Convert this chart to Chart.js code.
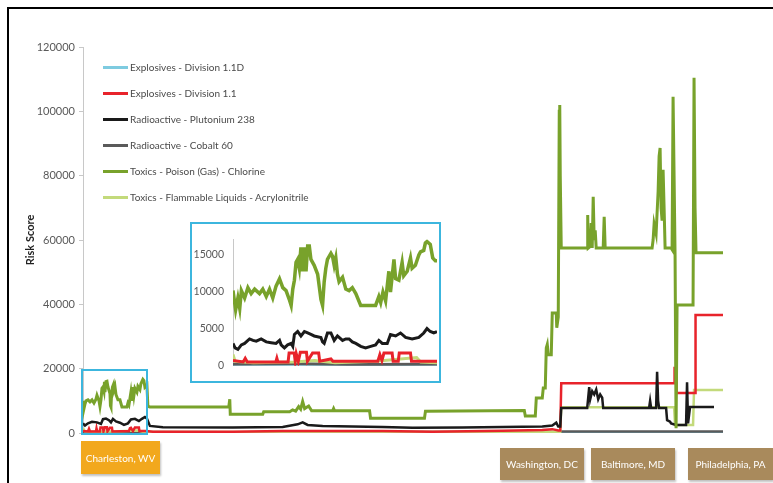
<!DOCTYPE html>
<html>
<head>
<meta charset="utf-8">
<script src="https://cdn.jsdelivr.net/npm/chart.js@4.4.1/dist/chart.umd.min.js"></script>
<style>
  body { margin: 0; background: #fff; font-family: Lato, "Open Sans", sans-serif; }
  #page { position: relative; width: 773px; height: 483px; overflow: hidden; }
  #frame { position: absolute; left: 7px; top: 7px; right: 0; bottom: 0;
           border-top: 2px solid #000; border-left: 2px solid #000; }
  #main { position: absolute; left: 0; top: 0; }
  #legend { position: absolute; left: 103px; top: 54px; }
  .row { height: 26px; display: flex; align-items: center; font-size: 10px; color: #4a4a4a; }
  .row span.sw { width: 25px; height: 3px; margin-right: 2px; }
  #zoomBox { position: absolute; left: 81px; top: 369px; width: 63px; height: 62px; border: 2px solid #3cb6de; }
  #insetBox { position: absolute; left: 190px; top: 222px; width: 247px; height: 157px;
              border: 2px solid #3cb6de; background: #fff; }
  #inset { position: absolute; left: 0; top: 0; }
  .place { position: absolute; color: #fff; font-size: 10px; display: flex; align-items: center;
           justify-content: center; box-shadow: 1px 2px 2px rgba(0,0,0,0.25); }
</style>
</head>
<body>
<div id="page">
  <div id="frame"></div>
  <canvas id="main" width="773" height="483"></canvas>
  <div id="legend"></div>
  <div id="zoomBox"></div>
  <div id="insetBox"><canvas id="inset" width="247" height="157"></canvas></div>
  <div class="place" style="left:81px;top:441px;width:79px;height:33px;background:#f2a81d;">Charleston, WV</div>
  <div class="place" style="left:500px;top:448px;width:84px;height:32px;background:#a98a5c;">Washington, DC</div>
  <div class="place" style="left:591px;top:448px;width:84px;height:32px;background:#a98a5c;">Baltimore, MD</div>
  <div class="place" style="left:688px;top:448px;width:85px;height:32px;background:#a98a5c;">Philadelphia, PA</div>
</div>
<script>
// route position along the corridor (0 = Charleston, 641 = Philadelphia), risk score
const seriesNames = [
  'Explosives - Division 1.1D',
  'Explosives - Division 1.1',
  'Radioactive - Plutonium 238',
  'Radioactive - Cobalt 60',
  'Toxics - Poison (Gas) - Chlorine',
  'Toxics - Flammable Liquids - Acrylonitrile'
];
const seriesColors = ['#7ecbe0', '#e8232b', '#1a1a1a', '#5a5a5a', '#78a22b', '#c3da7b'];

const yTicks = [0, 20000, 40000, 60000, 80000, 100000, 120000];
const insetTicks = [0, 5000, 10000, 15000];

const explosives11D = [[0, 100], [641, 100]];

const explosives11 = [
  [0, 600], [5, 500], [6, 1300], [7, 500], [13, 500], [13.5, 1400], [14, 500], [17, 500], [17.5, 1700],
  [20, 1700], [20.5, 500], [22, 1800], [24, 1800], [24.5, 500], [27, 1600], [29, 1600], [29.5, 500],
  [46, 600], [47, 1500], [48, 1600], [50, 600], [52, 1700], [56, 1700], [56.5, 600], [63, 600],
  [70, 400], [150, 400], [200, 600], [300, 600], [350, 400], [420, 700], [460, 900], [470, 1200],
  [476, 800], [478, 800], [479, 15500], [592, 15500], [592.5, 20200], [594, 20200], [594.5, 12400],
  [613, 12400], [613.5, 36700], [641, 36700]
];

const plutonium238 = [
  [0, 3000], [2, 2300], [5, 3000], [9, 3500], [14, 3300], [18, 2800], [20, 4300], [23, 4500], [26, 4000],
  [28, 3300], [30, 4400], [33, 3600], [37, 3200], [41, 2500], [45, 3000], [48, 4200], [52, 4400],
  [56, 3700], [59, 4400], [62, 5000], [64, 4500], [67, 2200], [80, 1800], [150, 1700], [200, 1900],
  [215, 2700], [220, 3300], [225, 2500], [240, 2200], [300, 1900], [330, 1600], [380, 1700], [420, 1900],
  [460, 2000], [470, 2300], [474, 3200], [476, 2000], [478, 2000], [479, 7800], [505, 7800], [506, 11000],
  [507, 14300], [508, 10500], [510, 13000], [512, 12000], [514, 13500], [516, 10500], [518, 12000],
  [520, 11000], [521, 7800], [567, 7800], [568, 10000], [569, 7800], [574, 7800], [575, 19000],
  [576, 10000], [577, 7800], [584, 7800], [585, 4000], [588, 3500], [589, 3000], [594, 2500], [604, 2500],
  [605, 15800], [606, 3000], [608, 8100], [632, 8100]
];

const cobalt60 = [[0, 300], [150, 200], [300, 300], [478, 300], [479, 500], [641, 500]];

const chlorine = [
  [0, 10000], [1, 7600], [2, 9000], [3, 10000], [5, 10300], [7, 9700], [9, 10300], [11, 9300], [13, 10500],
  [14, 11700], [16, 10000], [17, 8200], [18, 10300], [19, 13900], [20, 14300], [21, 13000], [21.5, 15900],
  [22, 12700], [23, 16000], [24, 16100], [25, 14300], [27, 12300], [27.5, 8500], [28, 8100], [28.5, 11300],
  [29.5, 14300], [30.5, 15100], [31, 13500], [32, 14500], [33, 12000], [35, 10300], [37, 10300], [39, 8100],
  [44, 8100], [45, 9300], [46, 8700], [48, 12700], [49, 10000], [50, 14300], [51, 11700], [52, 13900],
  [54, 12700], [55, 14500], [57, 13500], [58, 15300], [60, 16700], [61, 16300], [62, 14300], [64, 15000],
  [65, 8300], [67, 8100], [146, 8100], [147, 10500], [147.5, 5800], [180, 5800], [181, 6600], [207, 6600],
  [210, 7200], [213, 6800], [216, 8200], [218, 7400], [220, 9800], [222, 7600], [226, 8400], [229, 6900],
  [250, 6900], [251, 7600], [252, 6900], [287, 6900], [288, 4600], [342, 4600], [343, 6800], [442, 7000],
  [443, 5300], [453, 5300], [454, 10900], [460, 10900], [461, 14000], [463, 14000], [464, 26400],
  [465, 27500], [466, 24300], [469, 24300], [470, 37300], [474, 37300], [474.5, 32700], [476, 36000],
  [477, 100000], [477.5, 102000], [478, 80000], [479, 57500], [505, 57500], [505.5, 67800], [506, 57500],
  [508, 58000], [509, 65300], [510, 57500], [511, 73400], [512, 60000], [513, 63000], [514, 57500],
  [521, 57500], [522, 67200], [523, 57500], [570, 57500], [571, 60000], [572, 65000], [574, 62000],
  [576, 75000], [577, 86000], [578, 88600], [579, 70000], [580, 66000], [581, 81800], [582, 70000],
  [583, 57500], [589, 57500], [590, 57000], [591, 104500], [592, 80000], [593, 55000], [594, 1500],
  [595, 39800], [611, 39800], [612, 110400], [613, 70000], [614, 56000], [641, 56000]
];

const acrylonitrile = [
  [0, 1500], [2, 500], [10, 400], [30, 500], [55, 800], [60, 400], [100, 300], [300, 300], [470, 400],
  [478, 400], [479, 8000], [592, 8000], [593, 2500], [611, 2500], [612, 13400], [641, 13400]
];

// Charleston close-up (0..100 across the inset)
const insetChlorine = [
  [0, 10100], [1.3, 7500], [2.4, 9100], [3.3, 7700], [4.1, 10100], [5.7, 9100], [7.3, 10500], [8.9, 9700],
  [10.6, 10300], [13, 9700], [14.6, 10300], [16.3, 9300], [17.9, 10300], [19.5, 9100], [21.1, 10700],
  [22.8, 11700], [24.4, 10500], [26, 10100], [27.6, 8900], [28.5, 8100], [29.3, 10300], [30.1, 11500],
  [30.9, 13900], [31.7, 14300], [32.5, 13100], [33.3, 15900], [34.1, 12700], [35, 15900], [35.8, 12700],
  [36.6, 16100], [37.4, 16100], [38.2, 14300], [39.8, 13500], [41.5, 12300], [43.1, 8900], [43.9, 8100],
  [44.7, 11300], [45.5, 13100], [46.3, 14300], [48, 15100], [48.8, 14700], [49.6, 13500], [50.4, 14500],
  [51.2, 12300], [52, 11300], [53.7, 11900], [55.3, 10300], [56.9, 10100], [58.5, 10500], [60.2, 9700],
  [62.6, 8100], [69.9, 8100], [71.5, 9300], [72.4, 8500], [73.5, 9900], [74.8, 8700], [76.4, 12700],
  [77.2, 9900], [78.9, 14300], [79.7, 11700], [81.3, 11500], [82.9, 13900], [83.7, 12100], [85.4, 12700],
  [87, 14500], [87.8, 13100], [89.4, 13500], [91.1, 14900], [91.9, 15300], [93.5, 15500], [94.3, 16500],
  [95.1, 16700], [96.7, 16300], [97.9, 14500], [99.2, 14100], [100, 14100]
];
const insetPlutonium = [
  [0, 3000], [1, 2400], [2.4, 2200], [4.1, 2800], [5.7, 3000], [8.1, 3600], [9.8, 3400], [11.4, 3300],
  [13.8, 3600], [16.3, 3200], [18.7, 3100], [21.1, 3000], [22.8, 3400], [23.6, 2800], [25.2, 2400],
  [26.8, 2800], [28.5, 3000], [29.3, 2600], [30.1, 4200], [31.7, 4600], [33.3, 4000], [35, 4600],
  [36.6, 4400], [38.2, 4200], [39.8, 4000], [43.1, 3800], [43.9, 3200], [44.7, 3000], [46.3, 4400],
  [48, 4400], [49.6, 3400], [51.2, 4000], [53.7, 3400], [55.3, 3600], [56.9, 3600], [58.5, 3200],
  [60.2, 3000], [62.6, 2600], [65, 2400], [67.5, 2600], [69.9, 2800], [71.5, 3400], [73.2, 3000],
  [75.6, 3000], [77.2, 4200], [79.7, 4000], [82.1, 4400], [84.6, 3800], [87.8, 3600], [91.1, 3800],
  [93.5, 4400], [95.1, 5000], [96.7, 4600], [98.4, 4400], [100, 4600]
];
const insetExplosives = [
  [0, 700], [5, 500], [6, 1000], [7, 500], [21, 500], [21.5, 1000], [22, 500], [27, 500], [27.5, 1700],
  [30, 1700], [30.5, 600], [31, 1600], [32, 600], [33, 1800], [36, 1800], [36.5, 600], [39, 1700],
  [42, 1700], [42.5, 600], [48, 900], [49, 600], [71, 600], [72, 1500], [73, 700], [74, 1700], [78, 1700],
  [78.5, 600], [81, 600], [81.5, 1700], [87, 1700], [87.5, 600], [100, 600]
];
const insetAcrylonitrile = [
  [0, 1500], [1, 600], [10, 400], [30, 500], [40, 700], [50, 400], [70, 600], [90, 1100], [92, 500], [100, 400]
];
const insetCobalt = [[0, 200], [30, 250], [60, 150], [100, 200]];
const insetExplosivesD = [[0, 100], [100, 100]];

const mainSeries = [explosives11D, explosives11, plutonium238, cobalt60, chlorine, acrylonitrile];
const insetSeries = [insetExplosivesD, insetExplosives, insetPlutonium, insetCobalt, insetChlorine, insetAcrylonitrile];
const drawOrder = [6, 3, 2, 5, 1, 4];

const font = 'Lato, "Open Sans", sans-serif';

function makeSets(list, width) {
  return list.map((pts, i) => ({
    label: seriesNames[i],
    data: pts,
    borderColor: seriesColors[i],
    borderWidth: i === 4 ? width + 0.5 : width,
    pointRadius: 0,
    tension: 0,
    order: drawOrder[i]
  }));
}

// legend as html, sits inside the plot area
const legend = document.getElementById('legend');
seriesNames.forEach((name, i) => {
  const row = document.createElement('div');
  row.className = 'row';
  row.innerHTML = `<span class="sw" style="background:${seriesColors[i]}"></span>${name}`;
  legend.appendChild(row);
});

const plainNum = v => String(v);

new Chart(document.getElementById('main'), {
  type: 'line',
  data: { datasets: makeSets(mainSeries, 2.5) },
  options: {
    responsive: false,
    animation: false,
    layout: { padding: { left: 20, top: 47, right: 50, bottom: 50 } },
    plugins: { legend: { display: false }, tooltip: { enabled: false } },
    scales: {
      x: { type: 'linear', min: 0, max: 641, display: false },
      y: {
        min: 0, max: 120000,
        afterFit: s => { s.width = 63; },
        afterBuildTicks: s => { s.ticks = yTicks.map(v => ({ value: v })); },
        title: { display: true, text: 'Risk Score', color: '#222', font: { family: font, size: 11, weight: 'bold' } },
        ticks: { color: '#595959', font: { family: font, size: 11 }, padding: 4, callback: plainNum },
        grid: { drawOnChartArea: false, tickLength: 4, color: '#c8c8c8' },
        border: { color: '#c8c8c8' }
      }
    }
  }
});

new Chart(document.getElementById('inset'), {
  type: 'line',
  data: { datasets: makeSets(insetSeries, 3) },
  options: {
    responsive: false,
    animation: false,
    layout: { padding: { left: 0, top: 6, right: 2, bottom: 9 } },
    plugins: { legend: { display: false }, tooltip: { enabled: false } },
    scales: {
      x: { type: 'linear', min: 0, max: 100, display: false },
      y: {
        min: 0, max: 17000,
        afterFit: s => { s.width = 41; },
        afterBuildTicks: s => { s.ticks = insetTicks.map(v => ({ value: v })); },
        ticks: { color: '#595959', font: { family: font, size: 10.5 }, padding: 9, callback: plainNum },
        grid: { drawOnChartArea: false, drawTicks: false },
        border: { color: '#c8c8c8' }
      }
    }
  }
});
</script>
</body>
</html>
